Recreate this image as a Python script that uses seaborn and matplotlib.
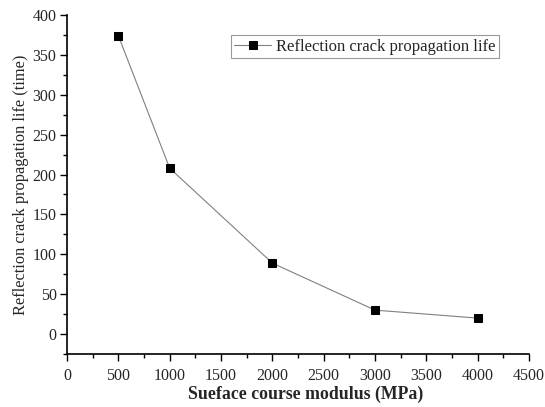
import matplotlib
matplotlib.use("Agg")
import matplotlib.pyplot as plt
from matplotlib.ticker import MultipleLocator
import seaborn as sns
import pandas as pd

modulus = [500, 1000, 2000, 3000, 4000]
life = [374, 208, 89, 30, 20]
series_name = "Reflection crack propagation life"

sns.set_style("ticks")
plt.rcParams["font.family"] = ["Liberation Serif", "DejaVu Serif"]

df = pd.DataFrame({"x": modulus, "y": life})

fig = plt.figure(figsize=(5.45, 4.07), dpi=100)
ax = fig.add_axes([67/545, 1-354/407, (529-67)/545, (354-15)/407])

sns.lineplot(data=df, x="x", y="y", ax=ax, marker="s", markersize=5.8,
             color="#808080", linewidth=0.8, markerfacecolor="black",
             markeredgecolor="black", label=series_name)

ax.set_xlim(0, 4500)
ax.set_ylim(-25, 400)
ax.xaxis.set_major_locator(MultipleLocator(500))
ax.xaxis.set_minor_locator(MultipleLocator(250))
ax.yaxis.set_major_locator(MultipleLocator(50))
ax.yaxis.set_minor_locator(MultipleLocator(25))
ax.tick_params(which="major", length=5, width=1, direction="out", labelsize=11.5, color="black")
ax.tick_params(which="minor", length=3, width=1, direction="out", color="black")
ax.tick_params(axis="y", which="major", pad=2.5)
ax.tick_params(axis="x", which="major", pad=5)
for s in ["top", "right"]:
    ax.spines[s].set_visible(False)
for s in ["left", "bottom"]:
    ax.spines[s].set_color("black")
    ax.spines[s].set_linewidth(1.2)

ax.set_xlabel("Sueface course modulus (MPa)", fontsize=12.8, fontweight="bold")
ax.xaxis.set_label_coords(0.517, -0.094)
ax.set_ylabel("Reflection crack propagation life (time)", fontsize=11.8)
ax.yaxis.set_label_coords(-0.082, 0.5)

leg = ax.legend(loc="upper left", bbox_to_anchor=(0.355, 0.94), frameon=True,
                fancybox=False, fontsize=12, handlelength=2.2, borderpad=0.2,
                handletextpad=0.3, borderaxespad=0)
leg.get_frame().set_edgecolor("#808080")
leg.get_frame().set_linewidth(0.8)

fig.savefig("out.png", dpi=100)
